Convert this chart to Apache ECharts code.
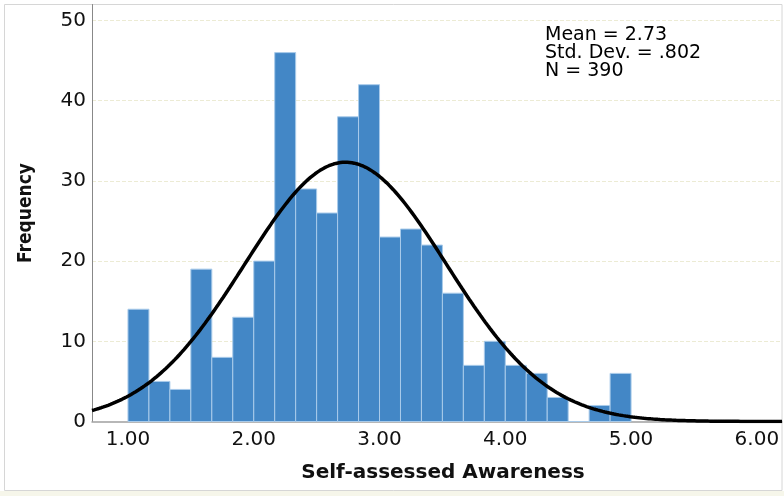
<!DOCTYPE html>
<html>
<head>
<meta charset="utf-8">
<script src="https://cdn.jsdelivr.net/npm/echarts@6/dist/echarts.min.js"></script>
<style>html,body{margin:0;padding:0;background:#fff}#c{width:784px;height:496px}</style>
</head>
<body>
<div id="c"></div>
<script>
// Histogram bins (edges) and frequencies
const binEdges = [1.000, 1.1667, 1.3333, 1.500, 1.6667, 1.8333, 2.000, 2.1667, 2.3333, 2.500, 2.6667, 2.8333,
                  3.000, 3.1667, 3.3333, 3.500, 3.6667, 3.8333, 4.000, 4.1667, 4.3333, 4.500, 4.6667, 4.8333, 5.000];
const frequencies = [14, 5, 4, 19, 8, 13, 20, 46, 29, 26, 38, 42, 23, 24, 22, 16, 7, 10, 7, 6, 3, 0, 2, 6];
const xTickValues = [1, 2, 3, 4, 5, 6];
const yTickValues = [0, 10, 20, 30, 40, 50];
const statsLines = ['Mean = 2.73', 'Std. Dev. = .802', 'N = 390'];
const mean = 2.73, sd = 0.802, N = 390, binWidth = 1 / 6;
const xMin = 0.714, xMax = 6.2;

const barData = frequencies.map((f, i) => [binEdges[i], binEdges[i + 1], f]);

// Fitted normal curve (defined by the reported mean / sd / N)
const curve = [];
const steps = 300;
for (let i = 0; i <= steps; i++) {
  const x = xMin + (xMax - xMin) * i / steps;
  const z = (x - mean) / sd;
  curve.push([x, N * binWidth / (sd * Math.sqrt(2 * Math.PI)) * Math.exp(-0.5 * z * z)]);
}

const chart = echarts.init(document.getElementById('c'), null, {renderer: 'canvas'});
chart.setOption({
  animation: false,
  backgroundColor: '#ffffff',
  grid: {left: 92, right: 2, top: 4.5, bottom: 74.5},
  xAxis: {
    type: 'value', min: xMin, max: xMax,
    name: 'Self-assessed Awareness', nameLocation: 'middle', nameGap: 41,
    nameTextStyle: {fontFamily: 'DejaVu Sans', fontWeight: 'bold', fontSize: 20, color: '#111', padding: [0, 0, 0, 12]},
    axisLine: {show: true, onZero: false, lineStyle: {color: '#a0a0a0', width: 1.5}},
    axisTick: {show: false},
    splitLine: {show: false},
    axisLabel: {
      customValues: xTickValues,
      formatter: v => v.toFixed(2),
      fontFamily: 'DejaVu Sans', fontSize: 20, color: '#111', margin: 8
    }
  },
  yAxis: {
    type: 'value', min: 0, max: 52, interval: 10,
    name: 'Frequency', nameLocation: 'middle', nameRotate: 90, nameGap: 56,
    nameTextStyle: {fontFamily: 'Liberation Sans Narrow, DejaVu Sans Condensed, Liberation Sans', fontWeight: 'bold', fontSize: 19, color: '#111'},
    axisLine: {show: true, lineStyle: {color: '#888', width: 1}},
    axisTick: {show: false},
    axisLabel: {
      customValues: yTickValues,
      fontFamily: 'DejaVu Sans', fontSize: 20, color: '#111', margin: 6
    },
    splitLine: {show: true, showMinLine: false, showMaxLine: false,
      lineStyle: {type: 'dashed', color: '#ecebd4', width: 1}}
  },
  series: [
    {
      type: 'custom',
      data: barData,
      encode: {x: [0, 1], y: 2},
      renderItem: function (params, api) {
        const p0 = api.coord([api.value(0), 0]);
        const p1 = api.coord([api.value(1), api.value(2)]);
        return {
          type: 'rect',
          shape: {x: p0[0], y: p1[1], width: p1[0] - p0[0], height: p0[1] - p1[1]},
          style: {fill: '#4387c6', stroke: '#a9cbea', lineWidth: 1}
        };
      },
      z: 2
    },
    {
      type: 'line',
      data: curve,
      showSymbol: false,
      symbol: 'none',
      lineStyle: {color: '#000', width: 3.5},
      z: 3
    }
  ],
  graphic: [
    {type: 'rect', z: -1, shape: {x: 4.5, y: 4.5, width: 777.5, height: 486}, style: {fill: 'none', stroke: '#d6d6d6', lineWidth: 1}},
    {type: 'rect', z: -1, shape: {x: 0, y: 491, width: 784, height: 5}, style: {fill: '#f6f6ea'}},
    {type: 'text', left: 545, top: 26, z: 10,
      style: {text: statsLines.join('\n'), fontFamily: 'DejaVu Sans', fontSize: 19, lineHeight: 18, fill: '#000'}}
  ]
});
</script>
</body>
</html>
